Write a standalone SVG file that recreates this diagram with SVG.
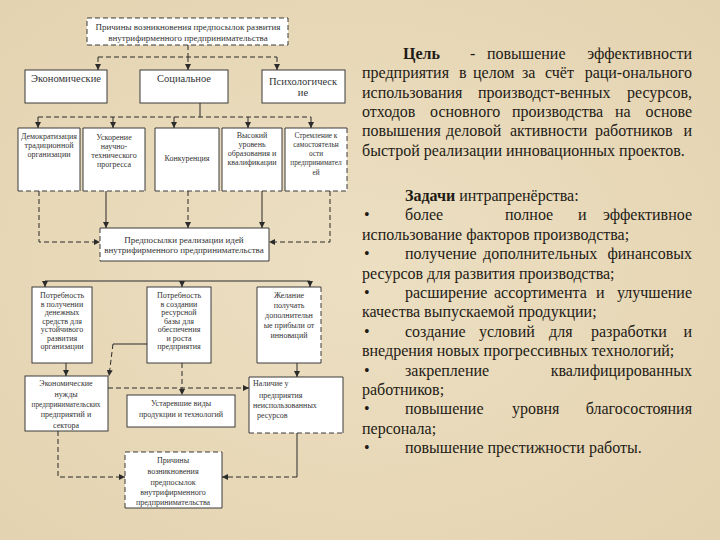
<svg xmlns="http://www.w3.org/2000/svg" width="720" height="540" viewBox="0 0 720 540">
<defs>
<radialGradient id="bg" cx="50%" cy="50%" r="75%">
<stop offset="0" stop-color="#ecdfc2"/>
<stop offset="1" stop-color="#e3d2af"/>
</radialGradient>
<marker id="ar" markerUnits="userSpaceOnUse" markerWidth="6" markerHeight="6" refX="6" refY="3" orient="auto">
<path d="M0,0 L6,3 L0,6 z" fill="#2b2b2b"/>
</marker>
<style>
.box{fill:#fff;stroke:none}
.sb{fill:none;stroke:#3a3a3a;stroke-width:1}
.db{fill:none;stroke:#3a3a3a;stroke-width:1;stroke-dasharray:5 3}
.cs{fill:none;stroke:#2b2b2b;stroke-width:1}
.cd{fill:none;stroke:#2b2b2b;stroke-width:1;stroke-dasharray:5 3}
.t{font-family:"Liberation Serif","Times New Roman",serif;font-size:8px;fill:#333;text-anchor:middle}
.t7{font-size:7.3px}
.t9{font-size:9px}
.t10{font-size:10.5px}
.tl{text-anchor:start}
.r{font-family:"Liberation Serif","Times New Roman",serif;font-size:16px;fill:#1e1b16}
.e{text-anchor:end}
.b{font-weight:bold}
</style>
</defs>
<rect width="720" height="540" fill="url(#bg)"/>

<g id="n-top">
<rect class="box" x="87" y="18" width="201" height="27"/>
<rect class="db" x="87" y="18" width="201" height="27"/>
<text class="t t9" x="188" y="30">Причины возникновения предпосылок развития</text>
<text class="t t9" x="188" y="41">внутрифирменного предпринимательства</text>
</g>

<g id="n-econ">
<rect class="box" x="25" y="70" width="82" height="33"/>
<rect class="sb" x="25" y="70" width="82" height="33"/>
<text class="t t10" x="66" y="82">Экономические</text>
</g>
<g id="n-soc">
<rect class="box" x="140" y="70" width="88" height="33"/>
<rect class="sb" x="140" y="70" width="88" height="33"/>
<text class="t t10" x="184" y="82">Социальное</text>
</g>
<g id="n-psy">
<rect class="box" x="262" y="70" width="83" height="33"/>
<rect class="sb" x="262" y="70" width="83" height="33"/>
<text class="t t10" x="303" y="85">Психологическ</text>
<text class="t t10" x="303" y="96">ие</text>
</g>

<g id="n-a">
<rect class="box" x="18" y="128" width="62" height="63"/>
<path class="sb" d="M18,191 V128 H80 V191"/><path class="db" d="M18,191 H80"/>
<text class="t" x="49" y="139">Демократизация</text>
<text class="t" x="49" y="148">традиционной</text>
<text class="t" x="49" y="157">организации</text>
</g>
<g id="n-b">
<rect class="box" x="83" y="128" width="62" height="63"/>
<path class="sb" d="M83,191 V128 H145 V191"/><path class="db" d="M83,191 H145"/>
<text class="t" x="114" y="140">Ускорение</text>
<text class="t" x="114" y="149">научно-</text>
<text class="t" x="114" y="158">технического</text>
<text class="t" x="114" y="167">прогресса</text>
</g>
<g id="n-c">
<rect class="box" x="155" y="128" width="64" height="63"/>
<path class="sb" d="M155,191 V128 H219 V191"/><path class="db" d="M155,191 H219"/>
<text class="t" x="187" y="161">Конкуренция</text>
</g>
<g id="n-d">
<rect class="box" x="222" y="128" width="60" height="63"/>
<path class="sb" d="M222,191 V128 H282 V191"/><path class="db" d="M222,191 H282"/>
<text class="t" x="252" y="138">Высокий</text>
<text class="t" x="252" y="147">уровень</text>
<text class="t" x="252" y="156">образования и</text>
<text class="t" x="252" y="165">квалификации</text>
</g>
<g id="n-e">
<rect class="box" x="285" y="128" width="62" height="63"/>
<path class="sb" d="M285,191 V128 H347"/><path class="db" d="M347,128 V191 H285"/>
<text class="t t7" x="316" y="138">Стремление к</text>
<text class="t t7" x="316" y="147">самостоятельн</text>
<text class="t t7" x="316" y="156">ости</text>
<text class="t t7" x="316" y="165">предпринимател</text>
<text class="t t7" x="316" y="175">ей</text>
</g>

<g id="n-pre">
<rect class="box" x="100" y="228" width="169" height="33"/>
<path class="sb" d="M100,228 H269 V261 H100"/><path class="db" d="M100,228 V261"/>
<text class="t t9" x="184" y="243">Предпосылки реализации идей</text>
<text class="t t9" x="184" y="253">внутрифирменного предпринимательства</text>
</g>

<g id="n-f">
<rect class="box" x="32" y="287" width="60" height="76"/>
<rect class="sb" x="32" y="287" width="60" height="76"/>
<text class="t" x="62" y="298">Потребность</text>
<text class="t" x="62" y="306.5">в получении</text>
<text class="t" x="62" y="315">денежных</text>
<text class="t" x="62" y="323.5">средств для</text>
<text class="t" x="62" y="332">устойчивого</text>
<text class="t" x="62" y="340.5">развития</text>
<text class="t" x="62" y="349">организации</text>
</g>
<g id="n-g">
<rect class="box" x="147" y="287" width="64" height="76"/>
<rect class="sb" x="147" y="287" width="64" height="76"/>
<text class="t" x="179" y="298">Потребность</text>
<text class="t" x="179" y="306.5">в создании</text>
<text class="t" x="179" y="315">ресурсной</text>
<text class="t" x="179" y="323.5">базы для</text>
<text class="t" x="179" y="332">обеспечения</text>
<text class="t" x="179" y="340.5">и роста</text>
<text class="t" x="179" y="349">предприятия</text>
</g>
<g id="n-h">
<rect class="box" x="257" y="287" width="64" height="76"/>
<path class="sb" d="M321,363 H257 V287 H321"/><path class="db" d="M321,287 V363"/>
<text class="t" x="289" y="298">Желание</text>
<text class="t" x="289" y="308">получать</text>
<text class="t" x="289" y="318">дополнительн</text>
<text class="t" x="289" y="328">ые прибыли от</text>
<text class="t" x="289" y="338">инноваций</text>
</g>

<g id="n-i">
<rect class="box" x="25" y="376" width="83" height="55"/>
<rect class="sb" x="25" y="376" width="83" height="55"/>
<text class="t" x="66" y="386">Экономические</text>
<text class="t" x="66" y="397">нужды</text>
<text class="t t7" x="66" y="407">предпринимательских</text>
<text class="t" x="66" y="417">предприятий и</text>
<text class="t" x="66" y="428">сектора</text>
</g>
<g id="n-j">
<rect class="box" x="127" y="395" width="108" height="32"/>
<rect class="sb" x="127" y="395" width="108" height="32" stroke="#777"/>
<text class="t" x="181" y="406">Устаревшие виды</text>
<text class="t" x="181" y="417">продукции и технологий</text>
</g>
<g id="n-k">
<rect class="box" x="249" y="377" width="94" height="56"/>
<path class="sb" d="M249,433 V377 H343 V433"/><path class="db" d="M249,433 H343"/>
<text class="t tl" x="253" y="386">Наличие у</text>
<text class="t tl" x="259" y="398">предприятия</text>
<text class="t tl" x="253" y="408">неиспользованных</text>
<text class="t tl" x="257" y="418">ресурсов</text>
</g>
<g id="n-l">
<rect class="box" x="125" y="452" width="97" height="56"/>
<path class="sb" d="M222,452 V508 H125"/><path class="db" d="M125,508 V452 H222"/>
<text class="t" x="173" y="463">Причины</text>
<text class="t" x="173" y="474">возникновения</text>
<text class="t" x="173" y="484.5">предпосылок</text>
<text class="t" x="173" y="495">внутрифирменного</text>
<text class="t" x="173" y="505">предпринимательства</text>
</g>

<g id="connectors">
<path class="cd" d="M188,45 V57 M98,57 H277"/>
<path class="cd" d="M98,57 V70" marker-end="url(#ar)"/>
<path class="cd" d="M188,57 V70" marker-end="url(#ar)"/>
<path class="cd" d="M277,57 V70" marker-end="url(#ar)"/>

<path class="cs" d="M200,103 V117"/>
<path class="cd" d="M38,117 H311"/>
<path class="cs" d="M38,117 V128" marker-end="url(#ar)"/>
<path class="cs" d="M113,117 V128" marker-end="url(#ar)"/>
<path class="cs" d="M174,117 V128" marker-end="url(#ar)"/>
<path class="cs" d="M248,117 V128" marker-end="url(#ar)"/>
<path class="cs" d="M311,117 V128" marker-end="url(#ar)"/>

<path class="cd" d="M39,191 V242 H100" marker-end="url(#ar)"/>
<path class="cs" d="M106,191 V228" marker-end="url(#ar)"/>
<path class="cd" d="M188,191 V228" marker-end="url(#ar)"/>
<path class="cs" d="M262,191 V228" marker-end="url(#ar)"/>
<path class="cd" d="M330,191 V242 H269" marker-end="url(#ar)"/>

<path class="cs" d="M45,281 H310"/>
<path class="cs" d="M45,281 V287" marker-end="url(#ar)"/>
<path class="cs" d="M182,281 V287" marker-end="url(#ar)"/>
<path class="cs" d="M310,281 V287" marker-end="url(#ar)"/>

<path class="cs" d="M66,363 V376" marker-end="url(#ar)"/>
<path class="cs" d="M147,344 H113"/>
<path class="cd" d="M113,344 L109,376" marker-end="url(#ar)"/>
<path class="cd" d="M182,363 V395" marker-end="url(#ar)"/>
<path class="cd" d="M108,388 H249" marker-end="url(#ar)"/>
<path class="cs" d="M297,363 V377" marker-end="url(#ar)"/>
<path class="cd" d="M58,431 V477 H125" marker-end="url(#ar)"/>
<path class="cs" d="M297,433 V477"/>
<path class="cd" d="M297,477 H222" marker-end="url(#ar)"/>
</g>

<g id="text-goal">
<text class="r b" x="403" y="59">Цель</text>
<text class="r" x="470" y="59">-</text>
<text class="r" x="487" y="59">повышение</text>
<text class="r e" x="692" y="59">эффективности</text>
<text class="r" y="78.3"><tspan x="362">предприятия</tspan><tspan x="459">в</tspan><tspan x="473">целом</tspan><tspan x="522">за</tspan><tspan x="545">счёт</tspan></text>
<text class="r e" x="692" y="78.3">раци-онального</text>
<text class="r" y="97.6"><tspan x="362">использования</tspan><tspan x="478">производст-венных</tspan></text>
<text class="r e" x="692" y="97.6">ресурсов,</text>
<text class="r" y="116.9"><tspan x="362">отходов</tspan><tspan x="430">основного</tspan><tspan x="512">производства</tspan><tspan x="615">на</tspan></text>
<text class="r e" x="692" y="116.9">основе</text>
<text class="r" y="136.2"><tspan x="362">повышения</tspan><tspan x="446">деловой</tspan><tspan x="510">активности</tspan><tspan x="595">работников</tspan></text>
<text class="r e" x="692" y="136.2">и</text>
<text class="r" x="362" y="155.5">быстрой реализации инновационных проектов.</text>
</g>

<g id="text-tasks">
<text class="r" x="405" y="201"><tspan class="b">Задачи</tspan> интрапренёрства:</text>
<text class="r" y="220.4"><tspan x="364">•</tspan><tspan x="405">более</tspan><tspan x="505">полное</tspan><tspan x="578">и</tspan></text>
<text class="r e" x="692" y="220.4">эффективное</text>
<text class="r" x="362" y="239.8">использование факторов производства;</text>
<text class="r" y="259.2"><tspan x="364">•</tspan><tspan x="405">получение</tspan><tspan x="483">дополнительных</tspan></text>
<text class="r e" x="692" y="259.2">финансовых</text>
<text class="r" x="362" y="278.6">ресурсов для развития производства;</text>
<text class="r" y="298"><tspan x="364">•</tspan><tspan x="405">расширение</tspan><tspan x="494">ассортимента</tspan><tspan x="596">и</tspan></text>
<text class="r e" x="692" y="298">улучшение</text>
<text class="r" x="362" y="317.4">качества выпускаемой продукции;</text>
<text class="r" y="336.8"><tspan x="364">•</tspan><tspan x="405">создание</tspan><tspan x="479">условий</tspan><tspan x="549">для</tspan><tspan x="591">разработки</tspan></text>
<text class="r e" x="692" y="336.8">и</text>
<text class="r" x="362" y="356.2">внедрения новых прогрессивных технологий;</text>
<text class="r" y="375.6"><tspan x="364">•</tspan><tspan x="405">закрепление</tspan></text>
<text class="r e" x="692" y="375.6">квалифицированных</text>
<text class="r" x="362" y="395">работников;</text>
<text class="r" y="414.4"><tspan x="364">•</tspan><tspan x="405">повышение</tspan><tspan x="512">уровня</tspan></text>
<text class="r e" x="692" y="414.4">благосостояния</text>
<text class="r" x="362" y="433.8">персонала;</text>
<text class="r" y="453.2"><tspan x="364">•</tspan><tspan x="405">повышение престижности работы.</tspan></text>
</g>
</svg>
